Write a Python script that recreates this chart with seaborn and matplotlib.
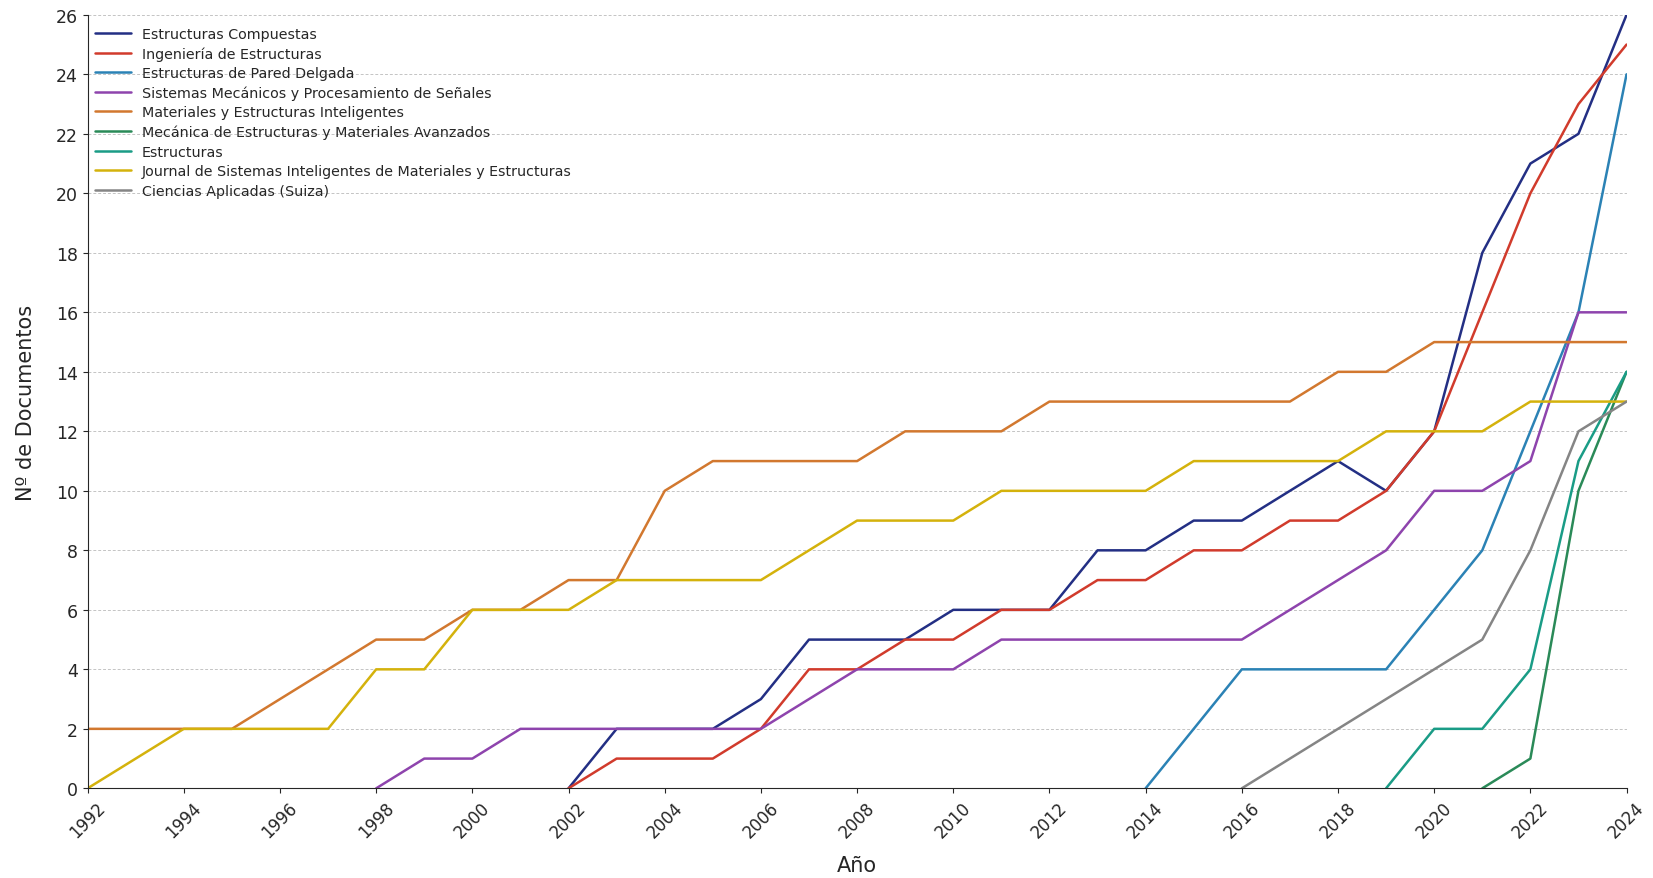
import matplotlib
matplotlib.use("Agg")
import matplotlib.pyplot as plt
import seaborn as sns
import pandas as pd

# Cumulative documents per source, by year (each series starts at its first year)
compuestas_years = list(range(2002, 2025))
compuestas = [0, 2, 2, 2, 3, 5, 5, 5, 6, 6, 6, 8, 8, 9, 9, 10, 11, 10, 12, 18, 21, 22, 26]

ingenieria_years = list(range(2002, 2025))
ingenieria = [0, 1, 1, 1, 2, 4, 4, 5, 5, 6, 6, 7, 7, 8, 8, 9, 9, 10, 12, 16, 20, 23, 25]

pared_years = list(range(2014, 2025))
pared = [0, 2, 4, 4, 4, 4, 6, 8, 12, 16, 24]

sistemas_years = list(range(1998, 2025))
sistemas = [0, 1, 1, 2, 2, 2, 2, 2, 2, 3, 4, 4, 4, 5, 5, 5, 5, 5, 5, 6, 7, 8, 10, 10, 11, 16, 16]

materiales_years = list(range(1992, 2025))
materiales = [2, 2, 2, 2, 3, 4, 5, 5, 6, 6, 7, 7, 10, 11, 11, 11, 11, 12, 12, 12, 13,
              13, 13, 13, 13, 13, 14, 14, 15, 15, 15, 15, 15]

mecanica_years = list(range(2021, 2025))
mecanica = [0, 1, 10, 14]

estructuras_years = list(range(2019, 2025))
estructuras = [0, 2, 2, 4, 11, 14]

journal_years = list(range(1992, 2025))
journal = [0, 1, 2, 2, 2, 2, 4, 4, 6, 6, 6, 7, 7, 7, 7, 8, 9, 9, 9, 10, 10,
           10, 10, 11, 11, 11, 11, 12, 12, 12, 13, 13, 13]

ciencias_years = list(range(2016, 2025))
ciencias = [0, 1, 2, 3, 4, 5, 8, 12, 13]

series_names = [
    "Estructuras Compuestas",
    "Ingeniería de Estructuras",
    "Estructuras de Pared Delgada",
    "Sistemas Mecánicos y Procesamiento de Señales",
    "Materiales y Estructuras Inteligentes",
    "Mecánica de Estructuras y Materiales Avanzados",
    "Estructuras",
    "Journal de Sistemas Inteligentes de Materiales y Estructuras",
    "Ciencias Aplicadas (Suiza)",
]
series_years = [compuestas_years, ingenieria_years, pared_years, sistemas_years,
                materiales_years, mecanica_years, estructuras_years, journal_years,
                ciencias_years]
series_values = [compuestas, ingenieria, pared, sistemas, materiales, mecanica,
                 estructuras, journal, ciencias]

colors = ["#232f84", "#d13b2c", "#2b82b5", "#8e44ad", "#d2782f",
          "#2a8a58", "#1a9c86", "#d4b20c", "#858585"]

x_ticks = list(range(1992, 2025, 2))
y_ticks = list(range(0, 27, 2))

frames = []
for name, yrs, vals in zip(series_names, series_years, series_values):
    frames.append(pd.DataFrame({"Año": yrs, "Documentos": vals, "Fuente": name}))
df = pd.concat(frames, ignore_index=True)

sns.set_style("ticks")
plt.rcParams["font.family"] = ["DejaVu Sans"]

fig = plt.figure(figsize=(16.53, 8.79), dpi=100)
ax = fig.add_axes([0.053, 0.102, 0.931, 0.880])

sns.lineplot(data=df, x="Año", y="Documentos", hue="Fuente",
             hue_order=series_names, palette=dict(zip(series_names, colors)),
             linewidth=1.8, ax=ax)

ax.set_xlim(1992, 2024)
ax.set_ylim(0, 26)
ax.set_xticks(x_ticks)
ax.set_xticklabels([str(t) for t in x_ticks], rotation=45, fontsize=12)
ax.set_yticks(y_ticks)
ax.set_yticklabels([str(t) for t in y_ticks], fontsize=12.5)
ax.yaxis.grid(True, linestyle=(0, (3, 2)), color="#c4c4c4", linewidth=0.7)
ax.set_axisbelow(True)
ax.set_xlabel("Año", fontsize=15, labelpad=10)
ax.set_ylabel("Nº de Documentos", fontsize=15, labelpad=14)
sns.despine(ax=ax)

leg = ax.legend(loc="upper left", frameon=False, fontsize=10.3,
                bbox_to_anchor=(0.001, 0.992), borderaxespad=0.0,
                handlelength=2.5, handletextpad=0.8, labelspacing=0.38)

fig.savefig("out.png", dpi=100)
